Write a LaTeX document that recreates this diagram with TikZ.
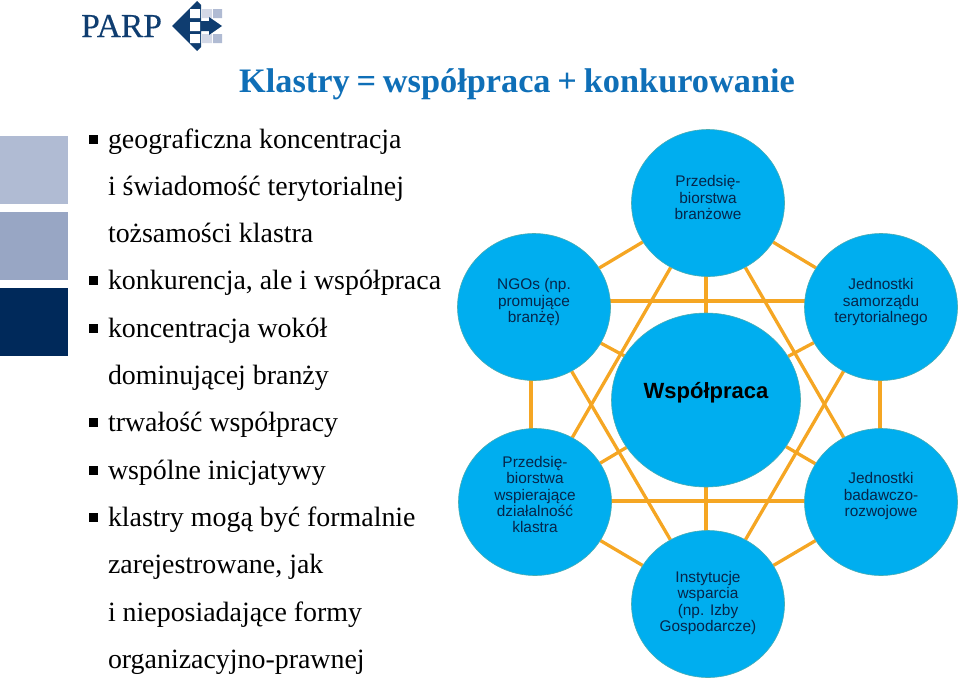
\documentclass[tikz,border=0pt]{standalone}
\usepackage{fontspec}
\setmainfont{Liberation Serif}
\newfontfamily\labelfont{Liberation Sans}
\newfontfamily\logofont[FakeBold=0.4]{Liberation Serif}
\newfontfamily\titlefont[WordSpace=0.8]{Liberation Serif}
\usepackage{tikz}
\usetikzlibrary{positioning,backgrounds,shapes.geometric}

\definecolor{partnerblue}{HTML}{00AEEF}
\definecolor{linkorange}{HTML}{F5A623}
\definecolor{titleblue}{HTML}{0F6FB7}
\definecolor{parpnavy}{HTML}{0F3D70}
\definecolor{parpdark}{HTML}{00295A}
\definecolor{parplight}{HTML}{B0BBD3}
\definecolor{parpmid}{HTML}{98A6C4}
\definecolor{parppale}{HTML}{D3D8E6}
\definecolor{textnavy}{HTML}{06254A}

\tikzset{
  partner/.style={ellipse, draw=partnerblue!70!linkorange, line width=0.6pt, fill=partnerblue, minimum width=153pt, minimum height=147pt, inner sep=0pt, align=center, text=textnavy, text depth=13pt, font=\labelfont\fontsize{15.4}{16.2}\selectfont},
  link/.style={draw=linkorange, line width=3.3pt},
  listline/.style={anchor=center, text width=400pt, text height=18pt, text depth=6pt, inner sep=0pt, align=flush left, font=\fontsize{27.9}{27.9}\selectfont},
  listbullet/.style={fill=black, inner sep=0pt, minimum size=9pt},
  sidebox/.style={inner sep=0pt, minimum size=68pt}
}

\begin{document}
\begin{tikzpicture}[x=1pt, y=-1pt, node distance=47.3pt, on grid]
\useasboundingbox (0,0) rectangle (960,680);

% logo
\node[anchor=base west, inner sep=0pt, text=parpnavy, font=\logofont\fontsize{33.5}{33.5}\selectfont] (parp) at (81,37) {PARP};
\fill[parppale] (202,9) rectangle (212,18) (202,34) rectangle (212,43);
\fill[parplight] (213,9) rectangle (222,18) (213,34) rectangle (222,43);
\fill[parpnavy] (172,26) -- (197,1) -- (201,5) -- (201,21) -- (209,21) -- (209,17) -- (222,26) -- (209,35) -- (209,31) -- (201,31) -- (201,47) -- (197,51) -- cycle;
\fill[white] (190,9) rectangle (200,18) (190,22) rectangle (200,31) (190,34) rectangle (200,43);

% title
\node[anchor=base, inner sep=0pt, text=titleblue, font=\titlefont\bfseries\fontsize{34.3}{34.3}\selectfont] (title) at (517,92) {Klastry = współpraca + konkurowanie};

% side boxes
\node[sidebox, fill=parplight] (box1) at (34,170) {};
\node[sidebox, fill=parpmid] (box2) at (34,246) {};
\node[sidebox, fill=parpdark] (box3) at (34,322) {};

% list
\node[listline] (l1) at (308,142) {geograficzna koncentracja};
\node[listline] (l2) [below=of l1] {i świadomość terytorialnej};
\node[listline] (l3) [below=of l2] {tożsamości klastra};
\node[listline] (l4) [below=of l3] {konkurencja, ale i współpraca};
\node[listline] (l5) [below=of l4] {koncentracja wokół};
\node[listline] (l6) [below=of l5] {dominującej branży};
\node[listline] (l7) [below=of l6] {trwałość współpracy};
\node[listline] (l8) [below=of l7] {wspólne inicjatywy};
\node[listline] (l9) [below=of l8] {klastry mogą być formalnie};
\node[listline] (l10) [below=of l9] {zarejestrowane, jak};
\node[listline] (l11) [below=of l10] {i nieposiadające formy};
\node[listline] (l12) [below=of l11] {organizacyjno-prawnej};

\node[listbullet] (b1) at (93.5,139) {};
\node[listbullet] (b4) [below=141.9pt of b1] {};
\node[listbullet] (b5) [below=of b4] {};
\node[listbullet] (b7) [below=94.6pt of b5] {};
\node[listbullet] (b8) [below=of b7] {};
\node[listbullet] (b9) [below=of b8] {};

% partners
\node[partner, text depth=11pt] (branch) at (708,203) {Przedsię-\\biorstwa\\branżowe};
\node[partner] (ngo) at (534,307) {NGOs (np.\\promujące\\branżę)};
\node[partner] (local) at (881,307) {Jednostki\\samorządu\\terytorialnego};
\node[partner, text depth=15pt] (firms) at (535,502) {Przedsię-\\biorstwa\\wspierające\\działalność\\klastra};
\node[partner, text depth=15pt] (research) at (881,502) {Jednostki\\badawczo-\\rozwojowe};
\node[partner, text depth=5pt] (support) at (708,604) {Instytucje\\wsparcia\\(np. Izby\\Gospodarcze)};
\node[partner, minimum width=189pt, minimum height=174pt, text=black, text depth=18.5pt, font=\labelfont\bfseries\fontsize{22}{22}\selectfont] (core) at (706,400) {Współpraca};

% links
\begin{scope}[on background layer]
\path[link]
(branch) edge (ngo)
(branch) edge (local)
(branch.center -| core.center) edge (core)
(branch) edge (firms)
(branch) edge (research);

\path[link]
(support.center -| core.center) edge (core)
(support) edge (firms)
(support) edge (research)
(support) edge (ngo)
(support) edge (local);

\path[link]
(core) edge (ngo)
(core) edge (local)
(core) edge (firms)
(core) edge (research);

\path[link]
([yshift=6pt]ngo.center) edge ([yshift=6pt]local.center)
([yshift=1pt]firms.center) edge ([yshift=1pt]research.center)
([xshift=-3pt]ngo.center) edge ([xshift=-4pt]firms.center)
([xshift=-1pt]local.center) edge ([xshift=-1pt]research.center);
\end{scope}

\end{tikzpicture}
\end{document}
